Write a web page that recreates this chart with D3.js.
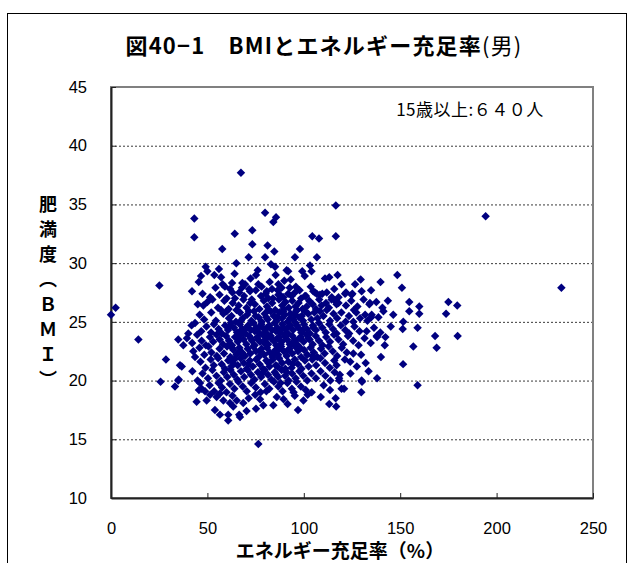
<!DOCTYPE html>
<html>
<head>
<meta charset="utf-8">
<script src="https://cdn.jsdelivr.net/npm/d3@7"></script>
<style>
  body { margin: 0; background: #fff; }
  svg { display: block; }
</style>
</head>
<body>
<svg id="chart" width="629" height="563"></svg>
<script>
// ---- text ----
const titleMain = "図40−1　BMIとエネルギー充足率";
const titleSuffix = "(男)";
const noteText = "15歳以上:６４０人";
const xTitle = "エネルギー充足率（%）";
const yTitleChars = ["肥", "満", "度", "︵", "Ｂ", "Ｍ", "Ｉ", "︶"];

// ---- axes ----
const xTickValues = [0, 50, 100, 150, 200, 250];
const yTickValues = [10, 15, 20, 25, 30, 35, 40, 45];

// ---- observations: [energy sufficiency %, BMI] ----
const highBmi = [
  [67.4,37.7],[116.6,34.9],[194.3,34.0],[79.9,34.3],[85.6,33.9],[84.2,33.5],[43.2,33.8],
  [43.2,32.2],[64.2,32.5],[73.3,32.8],[104.4,32.3],[107.9,32.1],[116.6,32.3],[57.7,31.2],
  [73.3,31.6],[81.2,31.5],[84.7,31.0],[98.0,31.2],[71.4,30.5],[79.9,30.5],[95.4,30.5],
  [106.8,30.5],[65.0,30.0]
];
const bmi28to30 = [
  [49.1,29.7],[83.0,29.9],[85.1,29.7],[103.2,29.8],[104.0,29.3],[50.0,29.3],[76.1,29.4],
  [91.1,29.4],[91.9,29.3],[99.2,29.3],[53.6,29.0],[46.7,28.9],[57.1,28.8],[75.2,29.0],
  [85.4,29.0],[117.5,29.0],[148.5,29.0],[111.0,28.7],[113.2,28.8],[45.5,28.4],[57.9,28.2],
  [59.1,28.0],[62.8,28.3],[68.1,28.3],[69.5,28.2],[76.4,28.2],[78.1,28.0],[86.8,28.2],
  [89.9,28.5],[88.5,27.9],[95.9,28.0],[103.6,28.0],[119.6,28.2],[126.6,28.2],[129.5,28.6],
  [139.8,28.4],[25.1,28.1],[150.9,27.9],[67.9,27.9],[93.2,28.6],[82.3,28.4],[64.1,29.1],
  [72.4,28.7],[100.5,28.9],[56.0,29.5],[233.6,27.9]
];
const bmi27to28 = [
  [42.0,27.6],[51.4,27.1],[60.0,27.0],[64.3,27.0],[66.5,27.5],[72.1,27.6],[71.6,27.8],
  [77.8,27.2],[80.2,27.4],[81.6,27.0],[80.8,27.6],[86.8,27.3],[86.5,27.7],[87.6,27.3],
  [91.9,27.4],[93.7,27.2],[95.4,27.5],[101.1,27.2],[104.9,27.6],[106.7,27.4],[109.6,27.4],
  [111.9,27.5],[114.5,27.1],[121.4,27.4],[124.8,27.3],[130.0,27.6],[134.9,27.7],[121.9,27.5],
  [125.2,27.4],[100.6,27.2],[108.4,27.3],[105.8,27.5],[56.3,27.3],[61.8,27.8],[69.0,27.2],
  [75.1,27.7],[83.5,27.8],[89.4,27.1],[97.8,27.7],[98.6,27.0],[115.8,27.8],[47.5,27.4],
  [54.2,27.9],[84.0,27.0],[92.7,27.9],[63.0,27.5],[118.0,27.1]
];
const bmi26to27 = [
  [50.0,26.7],[47.9,26.4],[63.1,26.6],[73.0,26.9],[116.2,26.8],[118.0,26.6],[117.0,26.5],
  [121.9,26.4],[114.4,26.9],[134.0,26.5],[137.6,26.7],[134.3,26.6],[154.7,26.7],[159.9,26.3],
  [175.0,26.7],[179.6,26.4],[101.5,26.3],[109.2,26.4],[55.5,26.2],[58.8,26.8],[61.0,26.1],
  [66.2,26.4],[68.7,26.9],[70.3,26.2],[74.6,26.5],[77.0,26.1],[79.3,26.8],[80.9,26.3],
  [83.6,26.6],[85.2,26.0],[87.1,26.9],[88.8,26.4],[90.5,26.7],[92.2,26.2],[94.0,26.8],
  [95.7,26.3],[97.3,26.6],[99.4,26.1],[102.8,26.8],[104.6,26.5],[106.3,26.1],[108.0,26.9],
  [111.5,26.6],[113.0,26.2],[124.6,26.8],[127.8,26.3],[131.0,26.9],[140.8,26.2],[45.0,26.5],
  [52.6,26.9],[65.1,26.0],[72.2,26.6],[81.7,26.0],[89.6,26.1],[96.4,26.0],[126.0,26.0],
  [143.6,26.8],[2.4,26.2]
];
const bmi25to26 = [
  [0.0,25.6],[57.1,26.0],[60.0,25.9],[58.3,25.7],[100.6,25.9],[98.9,25.5],[108.4,25.9],
  [111.9,26.0],[135.2,25.6],[135.0,25.4],[131.8,25.6],[129.2,25.3],[146.4,25.6],[154.7,25.9],
  [159.9,25.7],[173.8,25.7],[151.6,25.0],[121.7,25.0],[125.7,25.0],[48.3,25.2],[52.0,25.8],
  [54.4,25.1],[62.5,25.5],[64.8,25.0],[66.9,25.8],[68.3,25.3],[70.6,25.6],[72.8,25.1],
  [74.2,25.9],[76.5,25.4],[78.1,25.0],[79.7,25.7],[81.3,25.2],[82.8,25.9],[84.4,25.5],
  [85.9,25.1],[87.3,25.8],[88.7,25.3],[90.2,25.6],[91.6,25.0],[93.1,25.7],[94.5,25.2],
  [96.0,25.9],[97.5,25.4],[102.3,25.7],[103.9,25.2],[105.5,25.8],[107.1,25.3],[110.2,25.5],
  [113.6,25.1],[115.4,25.7],[117.3,25.3],[119.5,25.8],[123.4,25.5],[127.2,25.8],[133.0,25.1],
  [138.7,25.4],[141.3,25.9],[46.0,25.6],[67.4,25.1],[75.0,25.5],[86.2,25.4],[92.9,25.3],
  [99.6,25.1],[71.5,25.9],[89.4,25.9],[80.5,25.4],[95.3,25.6],[61.2,25.3]
];
const bmi24to25 = [
  [41.8,24.7],[43.6,24.9],[40.1,24.0],[145.1,24.6],[159.0,24.5],[151.3,24.4],[132.6,24.2],
  [123.5,24.0],[46.8,24.2],[49.5,24.6],[51.9,24.1],[53.4,24.8],[55.8,24.4],[57.5,24.0],
  [59.2,24.7],[60.7,24.3],[62.3,24.9],[63.8,24.5],[65.4,24.1],[66.8,24.8],[68.2,24.4],
  [69.7,24.0],[71.1,24.7],[72.5,24.3],[73.9,24.9],[75.3,24.5],[76.7,24.1],[78.0,24.8],
  [79.4,24.4],[80.8,24.0],[82.1,24.7],[83.5,24.3],[84.9,24.9],[86.2,24.5],[87.6,24.1],
  [88.9,24.8],[90.3,24.4],[91.7,24.0],[93.0,24.7],[94.4,24.3],[95.8,24.9],[97.2,24.5],
  [98.7,24.1],[100.1,24.8],[101.6,24.4],[103.2,24.0],[104.7,24.7],[106.3,24.3],[107.9,24.9],
  [109.6,24.5],[111.4,24.1],[113.2,24.8],[115.1,24.4],[117.0,24.0],[119.2,24.7],[121.5,24.3],
  [126.3,24.6],[128.9,24.2],[136.4,24.5],[139.7,24.1],[61.5,24.6],[70.4,24.5],[77.2,24.6],
  [85.6,24.2],[92.3,24.6],[99.5,24.3],[105.0,24.5],[81.0,24.5],[88.0,24.3],[74.6,24.2],
  [96.4,24.7],[67.0,24.2]
];
const bmi23to24 = [
  [34.9,23.5],[37.5,23.0],[14.2,23.5],[168.1,23.8],[179.8,23.8],[142.3,23.7],[138.0,23.7],
  [137.8,23.8],[142.0,23.0],[156.8,22.9],[39.4,23.6],[42.1,23.2],[44.7,23.9],[47.0,23.4],
  [49.2,23.0],[51.3,23.7],[53.0,23.3],[54.8,23.9],[56.4,23.5],[58.1,23.1],[59.7,23.8],
  [61.2,23.4],[62.8,23.0],[64.3,23.7],[65.8,23.3],[67.3,23.9],[68.8,23.5],[70.2,23.1],
  [71.7,23.8],[73.1,23.4],[74.5,23.0],[75.9,23.7],[77.3,23.3],[78.7,23.9],[80.1,23.5],
  [81.5,23.1],[82.9,23.8],[84.3,23.4],[85.7,23.0],[87.1,23.7],[88.5,23.3],[89.9,23.9],
  [91.3,23.5],[92.7,23.1],[94.1,23.8],[95.5,23.4],[96.9,23.0],[98.4,23.7],[99.9,23.3],
  [101.4,23.9],[103.0,23.5],[104.6,23.1],[106.2,23.8],[107.9,23.4],[109.7,23.0],[111.6,23.7],
  [113.6,23.3],[115.7,23.9],[118.0,23.5],[120.4,23.1],[122.9,23.8],[125.6,23.4],[128.4,23.0],
  [131.5,23.6],[134.7,23.2],[72.6,23.6],[79.5,23.2],[86.4,23.6],[93.8,23.2],[83.1,23.6],
  [76.2,23.5],[90.4,23.7],[97.6,23.6],[66.0,23.5],[102.3,23.6],[88.0,23.1],[80.8,23.8]
];
const bmi22to23 = [
  [140.0,22.0],[129.7,22.2],[125.7,22.3],[168.9,22.8],[42.7,22.5],[45.9,22.8],[48.4,22.2],
  [50.6,22.9],[52.1,22.4],[54.9,22.1],[56.3,22.7],[58.6,22.3],[60.2,22.9],[61.9,22.0],
  [63.5,22.6],[65.1,22.2],[66.6,22.8],[68.0,22.4],[69.5,22.1],[70.9,22.7],[72.3,22.3],
  [73.8,22.9],[75.2,22.5],[76.6,22.0],[78.1,22.7],[79.5,22.2],[80.9,22.8],[82.4,22.4],
  [83.8,22.0],[85.3,22.6],[86.7,22.2],[88.2,22.9],[89.6,22.5],[91.1,22.1],[92.6,22.7],
  [94.0,22.3],[95.5,22.9],[97.0,22.5],[98.6,22.0],[100.2,22.6],[101.8,22.2],[103.5,22.8],
  [105.2,22.4],[107.0,22.0],[108.9,22.7],[110.8,22.3],[112.9,22.9],[115.0,22.5],[117.3,22.1],
  [119.7,22.8],[122.3,22.4],[77.4,22.5],[84.5,22.3],[91.8,22.6],[66.9,22.5],[98.1,22.8],
  [87.2,22.7],[62.7,22.8],[104.4,22.1]
];
const bmi21to22 = [
  [28.5,21.8],[36.7,21.2],[35.8,21.3],[43.6,22.0],[132.1,21.5],[151.5,21.4],[117.0,21.3],
  [121.3,21.8],[46.4,21.6],[49.0,21.1],[51.7,21.8],[53.3,21.3],[55.6,21.9],[57.4,21.4],
  [59.1,21.0],[60.8,21.7],[62.4,21.2],[64.0,21.8],[65.7,21.3],[67.2,21.9],[68.9,21.5],
  [70.4,21.0],[72.0,21.7],[73.6,21.2],[75.3,21.8],[77.1,21.4],[78.8,21.0],[80.6,21.7],
  [82.2,21.2],[83.9,21.8],[85.5,21.3],[87.2,21.9],[88.8,21.5],[90.4,21.0],[92.0,21.6],
  [93.7,21.1],[95.3,21.8],[97.0,21.4],[98.8,21.0],[100.6,21.7],[102.5,21.2],[104.4,21.8],
  [106.4,21.3],[108.6,21.9],[111.0,21.5],[113.5,21.1],[115.8,21.7],[124.1,21.6],[127.5,21.2],
  [71.2,21.4],[81.7,21.5],[94.2,21.4],[86.3,21.2],[63.2,21.5]
];
const bmi20to21 = [
  [42.2,20.8],[44.9,20.0],[34.9,20.0],[35.1,20.1],[133.6,20.8],[138.0,20.2],[118.7,20.5],
  [118.3,20.2],[118.4,20.0],[130.0,20.0],[25.7,19.9],[47.5,20.6],[50.3,20.2],[52.6,20.9],
  [54.7,20.4],[56.9,20.0],[58.5,20.7],[60.3,20.3],[62.0,20.9],[63.7,20.5],[65.5,20.1],
  [67.4,20.8],[69.1,20.3],[70.9,20.9],[72.6,20.5],[74.4,20.1],[76.2,20.7],[77.9,20.3],
  [79.7,20.9],[81.4,20.5],[83.2,20.1],[84.9,20.7],[86.7,20.3],[88.5,20.9],[90.3,20.4],
  [92.1,20.0],[93.9,20.6],[95.8,20.2],[97.7,20.8],[99.7,20.4],[101.8,20.0],[104.0,20.6],
  [106.3,20.2],[108.7,20.8],[111.2,20.4],[113.8,20.0],[116.0,20.7],[124.2,20.6],[85.8,20.5],
  [78.4,20.6],[91.2,20.7]
];
const bmi19to20 = [
  [33.2,19.5],[46.2,19.8],[45.6,19.2],[47.0,19.3],[48.8,19.1],[130.2,19.9],[129.8,19.0],
  [120.9,19.3],[119.6,19.3],[104.1,19.0],[159.0,19.6],[51.2,19.6],[53.5,19.1],[55.8,19.8],
  [57.6,19.4],[59.9,19.0],[61.7,19.7],[64.0,19.3],[66.1,19.9],[68.3,19.5],[70.4,19.1],
  [72.7,19.8],[75.1,19.4],[77.6,19.0],[79.8,19.7],[82.1,19.3],[84.5,19.9],[86.8,19.5],
  [89.0,19.1],[91.5,19.8],[93.8,19.3],[96.2,19.9],[98.5,19.5],[101.0,19.2],[110.3,19.6],
  [113.6,19.2],[88.0,19.8],[80.6,19.1],[94.7,19.0]
];
const lowBmi = [
  [44.4,18.2],[49.6,18.3],[51.4,18.8],[54.8,18.6],[58.3,18.3],[61.7,18.1],[65.2,18.3],
  [68.6,18.1],[108.8,18.6],[79.0,17.9],[84.2,17.9],[91.6,18.0],[56.5,18.9],[63.0,18.7],
  [71.4,18.5],[74.8,18.8],[77.3,18.4],[86.0,18.6],[89.5,18.4],[95.3,18.7],[99.8,18.3],
  [102.0,18.8],[116.5,18.5],[53.9,17.5],[56.5,17.1],[60.8,17.1],[60.8,16.6],[66.5,17.1],
  [66.9,16.9],[75.2,17.6],[97.0,17.5],[116.8,17.8],[113.2,18.0],[70.3,17.4],[63.4,17.8],
  [76.4,14.6]
];

const samples = [].concat(highBmi, bmi28to30, bmi27to28, bmi26to27, bmi25to26, bmi24to25,
  bmi23to24, bmi22to23, bmi21to22, bmi20to21, bmi19to20, lowBmi);

// ---- layout ----
const plot = { left: 111, right: 593, top: 87, bottom: 498 };
const svg = d3.select("#chart");

const x = d3.scaleLinear().domain([0, 250]).range([plot.left, plot.right]);
const y = d3.scaleLinear().domain([10, 45]).range([plot.bottom, plot.top]);

// outer chart frame
svg.append("rect")
  .attr("x", 7.5).attr("y", 13.5)
  .attr("width", 619).attr("height", 600)
  .attr("fill", "#fff").attr("stroke", "#000").attr("stroke-width", 1);

// horizontal dotted gridlines
svg.append("g").selectAll("line")
  .data(yTickValues.filter(v => v > 10 && v < 45))
  .join("line")
  .attr("x1", x(0)).attr("x2", x(250))
  .attr("y1", d => y(d) + 0.5).attr("y2", d => y(d) + 0.5)
  .attr("stroke", "#3a3a3a").attr("stroke-width", 1)
  .attr("stroke-dasharray", "2,2");

// plot area border
svg.append("rect")
  .attr("x", plot.left).attr("y", plot.top)
  .attr("width", plot.right - plot.left).attr("height", plot.bottom - plot.top)
  .attr("fill", "none").attr("stroke", "#808080").attr("stroke-width", 2);

const tickFont = "'Liberation Sans', Arial, sans-serif";

// y axis
const yAxis = svg.append("g")
  .attr("transform", `translate(${plot.left},0)`)
  .call(d3.axisLeft(y).tickValues(yTickValues).tickSizeInner(-5).tickSizeOuter(0).tickPadding(24));
// x axis
const xAxis = svg.append("g")
  .attr("transform", `translate(0,${plot.bottom})`)
  .call(d3.axisBottom(x).tickValues(xTickValues).tickSizeInner(-5).tickSizeOuter(0).tickPadding(24));

[yAxis, xAxis].forEach(g => {
  g.select(".domain").attr("stroke", "#222").attr("stroke-width", 2);
  g.selectAll(".tick line").attr("stroke", "#222");
  g.selectAll(".tick text")
    .attr("fill", "#000")
    .style("font-family", tickFont)
    .style("font-size", "16.5px");
});

// points
const diamond = {
  draw(ctx, size) {
    const r = Math.sqrt(size / 2);
    ctx.moveTo(0, -r); ctx.lineTo(r, 0); ctx.lineTo(0, r); ctx.lineTo(-r, 0); ctx.closePath();
  }
};
svg.append("g").selectAll("path")
  .data(samples)
  .join("path")
  .attr("transform", d => `translate(${x(d[0])},${y(d[1])})`)
  .attr("d", d3.symbol(diamond, 36))
  .attr("fill", "#000080");

const cjk = "'Noto Sans CJK JP', 'Noto Sans', sans-serif";

// title
const title = svg.append("text")
  .attr("x", 324).attr("y", 54)
  .attr("text-anchor", "middle")
  .style("font-family", cjk)
  .style("font-size", "22px")
  .style("font-weight", "bold")
  .style("letter-spacing", "1.2px")
  .attr("fill", "#000");
title.append("tspan").text(titleMain);
title.append("tspan").style("font-weight", "normal").text(titleSuffix);

// sample size note
svg.append("text")
  .attr("x", 470).attr("y", 116)
  .attr("text-anchor", "middle")
  .style("font-family", cjk)
  .style("font-size", "17px")
  .style("letter-spacing", "0.5px")
  .attr("fill", "#000")
  .text(noteText);

// x axis title
svg.append("text")
  .attr("x", 340).attr("y", 558)
  .attr("text-anchor", "middle")
  .style("font-family", cjk)
  .style("font-size", "19px")
  .style("font-weight", "bold")
  .attr("fill", "#000")
  .text(xTitle);

// y axis title, stacked vertically
svg.append("g").selectAll("text")
  .data(yTitleChars)
  .join("text")
  .attr("x", 48)
  .attr("y", (d, i) => 205 + i * 25)
  .attr("dy", "0.36em")
  .attr("text-anchor", "middle")
  .style("font-family", cjk)
  .style("font-size", "18px")
  .style("font-weight", "bold")
  .attr("fill", "#000")
  .text(d => d);
</script>
</body>
</html>
